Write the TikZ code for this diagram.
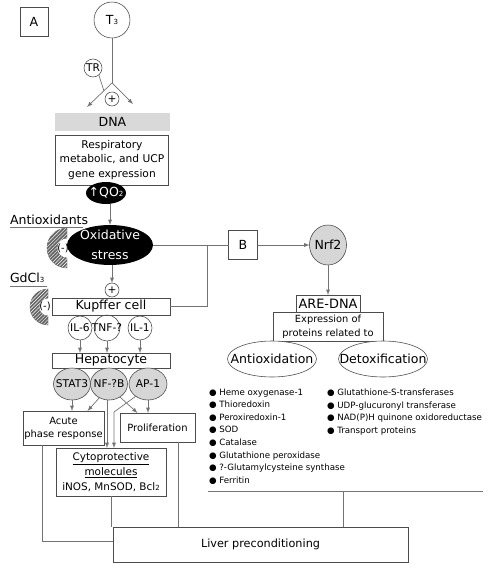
\documentclass[tikz,border=0pt]{standalone}
\usepackage{fontspec}
\setmainfont{DejaVu Sans}
\usetikzlibrary{shapes.geometric,patterns,calc}
\newlength{\unitpx}\setlength{\unitpx}{0.03cm}
\newcommand{\lowsub}[1]{{\fontsize{6}{6}\selectfont #1}}

\tikzset{
  every node/.style={inner sep=0pt, outer sep=0pt},
  box/.style={draw=black!70, line width=0.5pt, align=center},
  link/.style={draw=black!55, line width=0.6pt},
  arr/.style={link, -latex},
  fbig/.style={font=\fontsize{10.7}{13}\selectfont},
  fmid/.style={font=\fontsize{9.1}{12.4}\selectfont},
  fsmall/.style={font=\fontsize{8.5}{11}\selectfont},
  flist/.style={font=\fontsize{7.4}{10.7}\selectfont},
  blob/.style={ellipse, fill=black},
  cell/.style={ellipse, draw=black!70, line width=0.5pt, fill=black!16},
  ring/.style={circle, draw=black!70, line width=0.5pt},
  oval/.style={ellipse, draw=black!70, line width=0.5pt, fill=white},
  hatch/.style={fill=black!60, draw=black!60, postaction={pattern=north east lines, pattern color=white}},
}

\begin{document}
\begin{tikzpicture}[x=0.03cm, y=-0.03cm]
\useasboundingbox (0,0) rectangle (497,568);

% thyroid hormone and DNA
\node[box, minimum width=28\unitpx, minimum height=29\unitpx, fbig] (panela) at (34,22) {A};
\node[ring, minimum size=36\unitpx, label={[fbig]center:T\lowsub{3}}] (t3) at (112,20) {};
\node[ring, minimum size=18\unitpx, label={[fmid]center:TR}] (tr) at (93,68) {};
\coordinate (fork) at (112,83);
\coordinate (dnal) at (87,107);
\coordinate (dnar) at (133,104);
\coordinate (trjoin) at (104,91);
\node[ring, minimum size=14\unitpx, fmid] (plusa) at (112,99) {+};
\node[fill=black!15, minimum width=115\unitpx, minimum height=18\unitpx, fbig] (dna) at (112.5,122) {DNA};
\node[box, minimum width=113\unitpx, minimum height=50\unitpx, fmid] (resp) at (112,160) {Respiratory\\metabolic, and UCP\\gene expression};
\node[blob, minimum width=40\unitpx, minimum height=22\unitpx,
  label={[fbig, text=white]center:↑QO\lowsub{2}}] (qo2) at (106,193) {};

\draw[link] (t3.south) -- (fork);
\draw[arr] (fork) -- (dnal);
\draw[arr] (fork) -- (dnar);
\draw[link] (tr.-50) -- (trjoin);

% oxidative stress
\node[blob, minimum width=86\unitpx, minimum height=40\unitpx,
  label={[font=\fontsize{10.7}{17}\selectfont, text=white, align=center]center:Oxidative\\stress}] (oxid) at (110,245) {};
\draw[arr] (qo2.south -| oxid.north) -- (oxid.north);

\node[fbig, anchor=base west] (antilabel) at (10,224) {Antioxidants};
\draw[link] (10,227) -- (83,227);
\node[fbig, anchor=base west] (gdlabel) at (10,282) {GdCl\lowsub{3}};
\draw[link] (10,286) -- (47,286);

\foreach \cx/\cy/\ro/\ri in {67/248/20/10, 48/307/18/9}{
  \path[hatch] (\cx,{\cy-\ro}) arc[start angle=90, end angle=270, radius=\ro\unitpx]
    -- (\cx,{\cy+\ri}) arc[start angle=270, end angle=90, radius=\ri\unitpx] -- cycle;
}
\node[fsmall] (antiminus) at (63,248) {(-)};
\node[fsmall] (gdminus) at (45,306) {(-)};

\node[ring, minimum size=14\unitpx, fmid] (plusb) at (112,290) {+};
\draw[arr] (oxid.south -| plusb.north) -- (plusb.north);

% Kupffer cell and hepatocyte
\node[box, minimum width=118\unitpx, minimum height=17\unitpx, fbig] (kupffer) at (111,306.5) {Kupffer cell};
\node[ring, minimum size=24\unitpx, label={[fmid]center:IL-6}] (il6) at (80,328) {};
\node[ring, minimum size=26\unitpx, label={[fmid]center:TNF-?}] (tnf) at (107,328) {};
\node[ring, minimum size=24\unitpx, label={[fmid]center:IL-1}] (il1) at (140,328) {};
\node[box, minimum width=118\unitpx, minimum height=15\unitpx, fbig] (hepato) at (111,360.5) {Hepatocyte};
\foreach \c in {il6,tnf,il1}
  \draw[arr] (\c.south) -- (\c.south |- hepato.north);

\node[cell, minimum width=37\unitpx, minimum height=32\unitpx, label={[fmid]center:STAT3}] (stat3) at (72,384) {};
\node[cell, minimum width=37\unitpx, minimum height=32\unitpx, label={[fmid]center:NF-?B}] (nfkb) at (109,384) {};
\node[cell, minimum width=38\unitpx, minimum height=32\unitpx, label={[fmid]center:AP-1}] (ap1) at (148,384) {};

\node[box, minimum width=81\unitpx, minimum height=34\unitpx, font=\fontsize{8.5}{11.2}\selectfont] (acute) at (63.5,428) {Acute\\phase response};
\node[box, minimum width=75\unitpx, minimum height=29\unitpx, fsmall] (prolif) at (157.5,427.5) {Proliferation};
\node[box, minimum width=110\unitpx, minimum height=48\unitpx, font=\fontsize{8.9}{12.8}\selectfont] (cyto) at (111,472) {\underline{Cytoprotective}\\\underline{molecules}\\iNOS, MnSOD, Bcl\lowsub{2}};
\coordinate (apbend) at (114,412);

\draw[arr] (stat3.south) -- (stat3.south |- acute.north);
\draw[arr] (nfkb.235) -- ([xshift=24\unitpx]acute.north);
\draw[arr] (nfkb.-50) -- ([xshift=-20\unitpx]prolif.north);
\draw[arr] (ap1.south) -- (ap1.south |- prolif.north);
\draw[arr] ([xshift=-2\unitpx]nfkb.south) -- ([xshift=-2\unitpx]nfkb.south |- cyto.north);
\draw[arr] (ap1.225) -- (apbend) -- (apbend |- cyto.north);

% Nrf2 branch
\node[box, minimum width=29\unitpx, minimum height=29\unitpx, fbig] (bbox) at (243,245) {B};
\coordinate (split) at (207,245);
\draw[link] (oxid.east) -- (bbox.west);
\draw[link] (split) |- (kupffer.east);
\node[cell, minimum width=37\unitpx, minimum height=40\unitpx, label={[fbig]center:Nrf2}] (nrf2) at (328,245) {};
\draw[arr] (bbox.east) -- (nrf2.west);
\node[box, minimum width=64\unitpx, minimum height=17\unitpx, font=\fontsize{11}{13}\selectfont] (are) at (328,303.5) {ARE-DNA};
\draw[arr] (nrf2.south) -- (are.north);
\node[box, minimum width=110\unitpx, minimum height=29\unitpx, font=\fontsize{8.4}{12}\selectfont] (expr) at (328,326.5) {Expression of\\proteins related to};
\node[oval, minimum width=89\unitpx, minimum height=36\unitpx, label={[fbig]center:Antioxidation}] (antiox) at (272,359) {};
\node[oval, minimum width=89\unitpx, minimum height=36\unitpx, label={[fbig]center:Detoxification}] (detox) at (383,359) {};

\node[flist, anchor=north west, align=left] (antilist) at (209,389)
  {● Heme oxygenase-1\\● Thioredoxin\\● Peroxiredoxin-1\\● SOD\\● Catalase\\● Glutathione peroxidase\\● ?-Glutamylcysteine synthase\\● Ferritin};
\node[flist, anchor=north west, align=left] (detoxlist) at (327,389)
  {● Glutathione-S-transferases\\● UDP-glucuronyl transferase\\● NAD(P)H quinone oxidoreductase\\● Transport proteins};
\coordinate (listl) at (208,491);
\coordinate (listr) at (483,491);
\coordinate (listdrop) at (343,491);
\draw[link] (listl) -- (listr);

% liver preconditioning
\node[box, minimum width=295\unitpx, minimum height=35\unitpx, font=\fontsize{9.6}{12}\selectfont] (liver) at (260.5,544.5) {Liver preconditioning};
\draw[link] ([xshift=-21.5\unitpx]acute.south) |- ([yshift=3.5\unitpx]liver.west);
\draw[link] (cyto.south) -- (cyto.south |- liver.north);
\draw[link] ([xshift=20.5\unitpx]prolif.south) -- ([xshift=20.5\unitpx]prolif.south |- liver.north);
\draw[link] (listdrop) -- (listdrop |- liver.north);
\end{tikzpicture}
\end{document}
